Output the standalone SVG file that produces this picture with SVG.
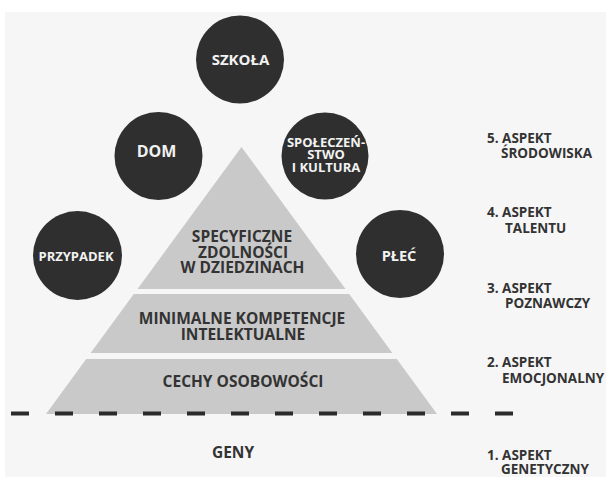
<svg xmlns="http://www.w3.org/2000/svg" width="606" height="477" viewBox="0 0 606 477">
<style>
.t{font-family:"Open Sans","Liberation Sans",sans-serif;font-weight:700}
.c{fill:#2f2f2f}
.ct{fill:#f2f2f2;text-anchor:middle}
.lv{fill:#c9c9c9}
.pt{fill:#333333;text-anchor:middle;font-size:15.5px}
.lab{fill:#333333;font-size:13.5px}
</style>
<rect x="0" y="0" width="606" height="477" fill="#ffffff"/>
<rect x="5" y="12" width="601" height="465" fill="#f6f6f6"/>
<g id="pyramid">
<g id="level-3"><polygon class="lv" points="241.5,147 345.5,289 137.5,289"/>
<text class="t pt" x="242" y="242">SPECYFICZNE</text>
<text class="t pt" x="243" y="257.5">ZDOLNOŚCI</text>
<text class="t pt" x="242.5" y="273">W DZIEDZINACH</text></g>
<g id="level-2"><polygon class="lv" points="349.2,294 392.4,353 90.6,353 133.8,294"/>
<text class="t pt" x="242" y="324">MINIMALNE KOMPETENCJE</text>
<text class="t pt" x="243" y="339.5">INTELEKTUALNE</text></g>
<g id="level-1"><polygon class="lv" points="396.8,359 437,414 46,414 86.2,359"/>
<text class="t pt" x="243" y="387">CECHY OSOBOWOŚCI</text></g>
</g>
<g id="divider">
<line x1="11" y1="413.5" x2="513" y2="413.5" stroke="#2b2b2b" stroke-width="4" stroke-dasharray="18 26"/>
</g>
<g id="geny"><text class="t pt" x="233" y="458">GENY</text></g>
<g id="szkola"><circle class="c" cx="240" cy="59.5" r="44"/><text class="t ct" x="240.5" y="65" font-size="15">SZKOŁA</text></g>
<g id="dom"><circle class="c" cx="158.5" cy="156" r="44"/><text class="t ct" x="156.5" y="157" font-size="16">DOM</text></g>
<g id="spoleczenstwo"><circle class="c" cx="325" cy="156" r="43.5"/>
<text class="t ct" x="326" y="146.5" font-size="13">SPOŁECZEŃ-</text>
<text class="t ct" x="326" y="159" font-size="13">STWO</text>
<text class="t ct" x="326" y="171.5" font-size="13">I KULTURA</text></g>
<g id="przypadek"><circle class="c" cx="77.5" cy="255.5" r="44.5"/><text class="t ct" x="76" y="261" font-size="13">PRZYPADEK</text></g>
<g id="plec"><circle class="c" cx="400" cy="254" r="44"/><text class="t ct" x="399" y="261" font-size="14.5">PŁEĆ</text></g>
<g id="labels">
<g id="aspekt-5"><text class="t lab" x="487" y="143">5. ASPEKT</text><text class="t lab" x="501" y="158">ŚRODOWISKA</text></g>
<g id="aspekt-4"><text class="t lab" x="487" y="217">4. ASPEKT</text><text class="t lab" x="505" y="233">TALENTU</text></g>
<g id="aspekt-3"><text class="t lab" x="487" y="293">3. ASPEKT</text><text class="t lab" x="505" y="308">POZNAWCZY</text></g>
<g id="aspekt-2"><text class="t lab" x="487" y="367">2. ASPEKT</text><text class="t lab" x="502" y="383">EMOCJONALNY</text></g>
<g id="aspekt-1"><text class="t lab" x="487" y="459.5">1. ASPEKT</text><text class="t lab" x="501" y="474">GENETYCZNY</text></g>
</g>
</svg>
